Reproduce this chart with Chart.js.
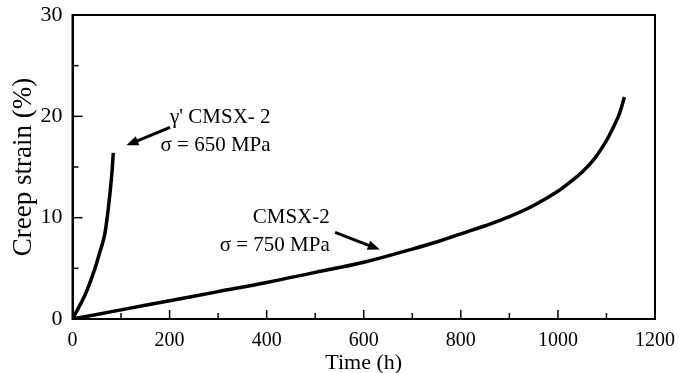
<!DOCTYPE html>
<html>
<head>
<meta charset="utf-8">
<script src="https://cdn.jsdelivr.net/npm/chart.js@4/dist/chart.umd.min.js"></script>
<style>
  html, body { margin: 0; padding: 0; background: #fff; }
  #wrap { width: 679px; height: 373px; }
</style>
</head>
<body>
<div id="wrap"><canvas id="creep"></canvas></div>
<script>
// gamma prime CMSX-2, 650 MPa
var gpTime   = [0, 26, 45, 57, 62, 67, 74, 81, 84];
var gpStrain = [0, 2.4, 4.8, 6.7, 7.5, 8.5, 11.0, 14.3, 16.4];

// CMSX-2, 750 MPa
var cmTime   = [0, 100, 200, 300, 400, 500, 600, 700, 750, 800, 850, 900, 950, 1000, 1025, 1050, 1075, 1100, 1115, 1127, 1137];
var cmStrain = [0, 0.9, 1.8, 2.7, 3.6, 4.6, 5.6, 6.9, 7.6, 8.4, 9.2, 10.1, 11.2, 12.6, 13.5, 14.5, 15.8, 17.6, 19.0, 20.3, 21.9];

var xTicks = [0, 200, 400, 600, 800, 1000, 1200];
var yTicks = [0, 10, 20, 30];

var serif = 'Liberation Serif, Times New Roman, serif';

function toPoints(xs, ys){
    var pts = [];
    for(var i = 0; i < xs.length; i++) pts.push({x: xs[i], y: ys[i]});
    return pts;
}

function arrow(ctx, x1, y1, x2, y2){
    var ang = Math.atan2(y2 - y1, x2 - x1);
    var head = 13;
    ctx.beginPath();
    ctx.moveTo(x1, y1);
    ctx.lineTo(x2 - Math.cos(ang) * head * 0.7, y2 - Math.sin(ang) * head * 0.7);
    ctx.lineWidth = 3;
    ctx.stroke();
    ctx.beginPath();
    ctx.moveTo(x2, y2);
    ctx.lineTo(x2 - head * Math.cos(ang - 0.38), y2 - head * Math.sin(ang - 0.38));
    ctx.lineTo(x2 - head * Math.cos(ang + 0.38), y2 - head * Math.sin(ang + 0.38));
    ctx.closePath();
    ctx.fill();
}

// frame, inward ticks and labels
var decor = {
    id: 'decor',
    afterDraw: function(chart){
        var ctx = chart.ctx;
        var a = chart.chartArea;
        var xs = chart.scales.x, ys = chart.scales.y;
        ctx.save();
        ctx.strokeStyle = '#000';
        ctx.fillStyle = '#000';
        ctx.lineWidth = 2;
        ctx.strokeRect(a.left, a.top, a.right - a.left, a.bottom - a.top);

        ctx.lineWidth = 1.5;
        for(var t = 100; t < 1200; t += 100){
            var px = xs.getPixelForValue(t);
            var len = (t % 200 == 0) ? 9 : 6;
            ctx.beginPath();
            ctx.moveTo(px, a.bottom);
            ctx.lineTo(px, a.bottom - len);
            ctx.stroke();
        }
        for(var v = 5; v < 30; v += 5){
            var py = ys.getPixelForValue(v);
            var l = (v % 10 == 0) ? 10 : 6;
            ctx.beginPath();
            ctx.moveTo(a.left, py);
            ctx.lineTo(a.left + l, py);
            ctx.stroke();
        }

        ctx.font = '21px ' + serif;
        ctx.textAlign = 'right';
        ctx.textBaseline = 'middle';
        ctx.fillText("\u03b3' CMSX- 2", xs.getPixelForValue(408), ys.getPixelForValue(19.9));
        ctx.fillText('\u03c3 = 650 MPa', xs.getPixelForValue(408), ys.getPixelForValue(17.1));
        ctx.fillText('CMSX-2', xs.getPixelForValue(530), ys.getPixelForValue(10.05));
        ctx.fillText('\u03c3 = 750 MPa', xs.getPixelForValue(530), ys.getPixelForValue(7.25));

        arrow(ctx, xs.getPixelForValue(201), ys.getPixelForValue(18.9),
                   xs.getPixelForValue(111), ys.getPixelForValue(17.15));
        arrow(ctx, xs.getPixelForValue(541), ys.getPixelForValue(8.55),
                   xs.getPixelForValue(633), ys.getPixelForValue(6.85));
        ctx.restore();
    }
};

var myChart = new Chart(document.getElementById('creep'), {
    type: 'scatter',
    data: {
        datasets: [
            {
                label: "gamma' CMSX-2, 650 MPa",
                data: toPoints(gpTime, gpStrain),
                showLine: true,
                borderColor: '#000',
                borderWidth: 3.5,
                pointRadius: 0,
                tension: 0.4
            },
            {
                label: 'CMSX-2, 750 MPa',
                data: toPoints(cmTime, cmStrain),
                showLine: true,
                borderColor: '#000',
                borderWidth: 3.5,
                pointRadius: 0,
                tension: 0.4
            }
        ]
    },
    options: {
        responsive: true,
        maintainAspectRatio: false,
        animation: false,
        layout: { padding: { top: 15, right: 24, left: 8, bottom: 0 } },
        plugins: {
            legend: { display: false },
            tooltip: { enabled: false }
        },
        scales: {
            x: {
                type: 'linear',
                min: 0, max: 1200,
                afterBuildTicks: function(s){ s.ticks = xTicks.map(function(v){ return {value: v}; }); },
                ticks: { color: '#000', font: { family: serif, size: 20 }, padding: 10, maxRotation: 0,
                         callback: function(v){ return String(v); } },
                grid: { drawOnChartArea: false, drawTicks: false },
                border: { display: true, color: '#000', width: 2 },
                title: { display: true, text: 'Time (h)', color: '#000', font: { family: serif, size: 22 },
                         padding: { top: 0, bottom: -3 } },
                afterFit: function(s){ s.height = 54; s.paddingLeft = 0; s.paddingRight = 0; }
            },
            y: {
                min: 0, max: 30,
                afterBuildTicks: function(s){ s.ticks = yTicks.map(function(v){ return {value: v}; }); },
                ticks: { color: '#000', font: { family: serif, size: 22 }, padding: 10 },
                grid: { drawOnChartArea: false, drawTicks: false },
                border: { display: true, color: '#000', width: 2 },
                title: { display: true, text: 'Creep strain (%)', color: '#000', font: { family: serif, size: 27 }, padding: 0 },
                afterFit: function(s){ s.width = 64.5; s.paddingTop = 0; s.paddingBottom = 0; }
            }
        }
    },
    plugins: [decor]
});
</script>
</body>
</html>
